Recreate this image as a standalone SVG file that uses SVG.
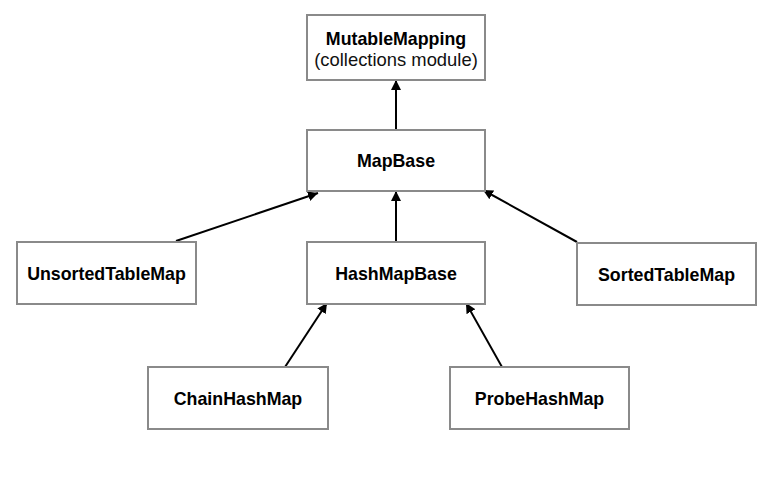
<svg xmlns="http://www.w3.org/2000/svg" width="778" height="481" viewBox="0 0 778 481">
<style>
.box{fill:#fff;stroke:#8a8a8a;stroke-width:2}
.t{font-family:"Liberation Sans",Arial,sans-serif;font-size:17.8px;font-weight:bold;fill:#000;text-anchor:middle}
.r{font-family:"Liberation Sans",Arial,sans-serif;font-size:18.4px;fill:#111;text-anchor:middle}
.e{stroke:#000;stroke-width:2;fill:none;marker-end:url(#ah)}
</style>
<defs>
<marker id="ah" markerWidth="10" markerHeight="10" viewBox="0 0 10 10" refX="10" refY="5" orient="auto" markerUnits="userSpaceOnUse">
<path d="M0,0 L10,5 L0,10 z" fill="#000"/>
</marker>
</defs>
<rect width="778" height="481" fill="#fff"/>
<g id="connectors">
<line class="e" x1="396" y1="130" x2="396" y2="80"/>
<line class="e" x1="396" y1="242" x2="396" y2="191"/>
<line class="e" x1="176" y1="241" x2="318" y2="193"/>
<line class="e" x1="577" y1="242" x2="483" y2="190"/>
<line class="e" x1="285" y1="367" x2="327" y2="303"/>
<line class="e" x1="502" y1="367" x2="466" y2="303"/>
</g>
<g id="MutableMapping">
<rect class="box" x="307" y="15" width="178" height="65"/>
<text class="t" x="396" y="45">MutableMapping</text>
<text class="r" x="396" y="66">(collections module)</text>
</g>
<g id="MapBase">
<rect class="box" x="307" y="130" width="178" height="61"/>
<text class="t" x="396" y="167">MapBase</text>
</g>
<g id="UnsortedTableMap">
<rect class="box" x="17" y="242" width="179" height="62"/>
<text class="t" x="106.5" y="280">UnsortedTableMap</text>
</g>
<g id="HashMapBase">
<rect class="box" x="307" y="242" width="178" height="62"/>
<text class="t" x="396" y="280">HashMapBase</text>
</g>
<g id="SortedTableMap">
<rect class="box" x="577" y="243" width="179" height="62"/>
<text class="t" x="666.5" y="281">SortedTableMap</text>
</g>
<g id="ChainHashMap">
<rect class="box" x="148" y="367" width="180" height="62"/>
<text class="t" x="238" y="405">ChainHashMap</text>
</g>
<g id="ProbeHashMap">
<rect class="box" x="450" y="367" width="179" height="62"/>
<text class="t" x="539.5" y="405">ProbeHashMap</text>
</g>
</svg>
